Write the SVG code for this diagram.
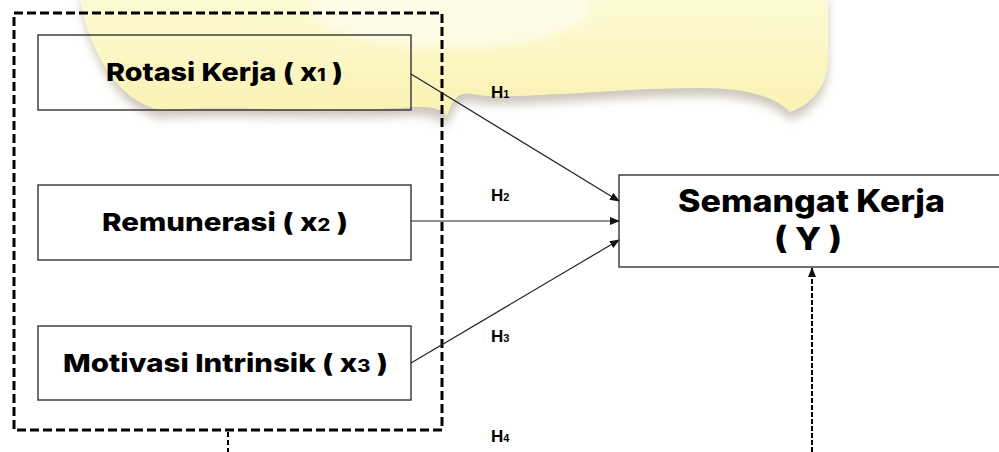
<svg xmlns="http://www.w3.org/2000/svg" width="999" height="452" viewBox="0 0 999 452">
  <defs>
    <style>
      .box { fill: none; stroke: #333; stroke-width: 1.4; }
      .label { font-family: Inter, "Open Sans", "Liberation Sans", sans-serif; font-weight: 800; fill: #000; }
      .h { font-family: "Liberation Sans", "Open Sans", sans-serif; font-weight: 700; fill: #000; }
      .edge { stroke: #222; stroke-width: 1.2; fill: none; }
    </style>
    <marker id="arr" markerWidth="10" markerHeight="8" refX="9" refY="4" orient="auto" markerUnits="userSpaceOnUse">
      <path d="M0,0 L10,4 L0,8 Z" fill="#111"/>
    </marker>
    <filter id="blur" x="-10%" y="-30%" width="120%" height="160%">
      <feGaussianBlur stdDeviation="5"/>
    </filter>
    <linearGradient id="yel" x1="0" y1="0" x2="0" y2="1">
      <stop offset="0" stop-color="#fdf9cc"/>
      <stop offset="1" stop-color="#faf1a6"/>
    </linearGradient>
  </defs>
  <rect width="999" height="452" fill="#fff"/>

  <!-- faint watermark background -->
  <g id="watermark" opacity="0.85">
    <path d="M80 0 L828 0 L828 70 C826 95 812 112 790 120 C775 104 745 96 700 96 C650 96 600 100 560 102 C520 104 490 106 472 102 C458 99 452 110 447 128 C440 116 425 114 400 116 C330 120 230 114 160 118 C120 110 90 60 80 0 Z" fill="#c4beb0" filter="url(#blur)"/>
    <path d="M80 0 L828 0 L828 62 C826 88 812 104 790 112 C775 96 745 88 700 88 C650 88 600 92 560 94 C520 96 490 98 472 94 C458 91 452 100 447 116 C440 106 425 106 400 108 C330 112 230 106 160 110 C120 102 90 55 80 0 Z" fill="url(#yel)"/>
    <ellipse cx="450" cy="8" rx="140" ry="40" fill="#fffdf0" opacity="0.7" filter="url(#blur)"/>
  </g>

  <!-- connectors -->
  <g id="connectors">
    <rect x="14" y="13" width="428" height="417" fill="none" stroke="#000" stroke-width="3" stroke-dasharray="9 4"/>
    <line class="edge" x1="411" y1="74" x2="619" y2="201" marker-end="url(#arr)"/>
    <line class="edge" x1="411" y1="221" x2="619" y2="221" marker-end="url(#arr)"/>
    <line class="edge" x1="411" y1="363" x2="619" y2="240" marker-end="url(#arr)"/>
    <line x1="228" y1="432" x2="228" y2="452" stroke="#000" stroke-width="2" stroke-dasharray="5 3"/>
    <line x1="812" y1="452" x2="812" y2="268" stroke="#000" stroke-width="2" stroke-dasharray="5 2" marker-end="url(#arr)"/>
    <text class="h" x="491" y="98" font-size="17">H<tspan font-size="11">1</tspan></text>
    <text class="h" x="491" y="201" font-size="17">H<tspan font-size="11">2</tspan></text>
    <text class="h" x="491" y="342" font-size="17">H<tspan font-size="11">3</tspan></text>
    <text class="h" x="491" y="442" font-size="17">H<tspan font-size="11">4</tspan></text>
  </g>

  <g id="x1">
    <rect class="box" x="38" y="35" width="373" height="75"/>
    <text class="label" x="106" y="81" font-size="25" textLength="237" lengthAdjust="spacingAndGlyphs">Rotasi Kerja ( x<tspan font-size="17">1</tspan> )</text>
  </g>
  <g id="x2">
    <rect class="box" x="38" y="185" width="373" height="75"/>
    <text class="label" x="102" y="231" font-size="25" textLength="246" lengthAdjust="spacingAndGlyphs">Remunerasi ( x<tspan font-size="17">2</tspan> )</text>
  </g>
  <g id="x3">
    <rect class="box" x="38" y="326" width="373" height="74"/>
    <text class="label" x="63" y="372" font-size="25" textLength="325" lengthAdjust="spacingAndGlyphs">Motivasi Intrinsik ( x<tspan font-size="17">3</tspan> )</text>
  </g>
  <g id="y">
    <rect class="box" x="619" y="175" width="390" height="92"/>
    <text class="label" x="678" y="212" font-size="31" textLength="267" lengthAdjust="spacingAndGlyphs">Semangat Kerja</text>
    <text class="label" x="774" y="250" font-size="31" textLength="68" lengthAdjust="spacingAndGlyphs">( Y )</text>
  </g>
</svg>
